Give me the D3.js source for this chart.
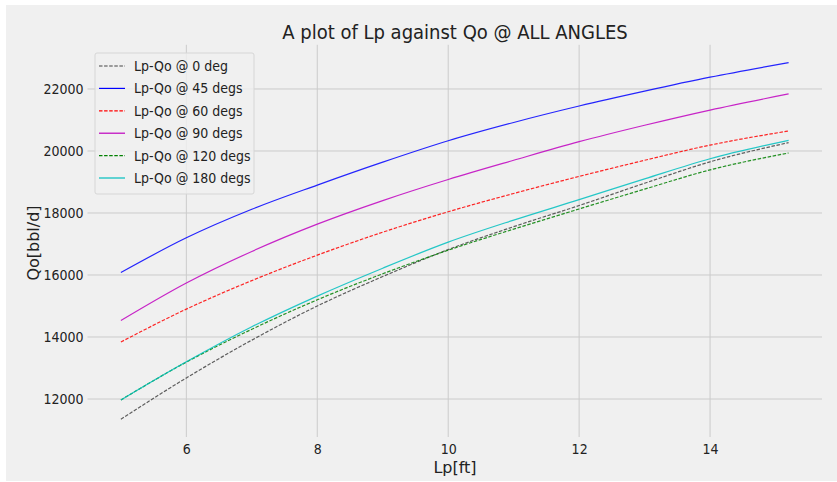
<!DOCTYPE html>
<html><head><meta charset="utf-8">
<script src="https://cdn.jsdelivr.net/npm/d3@7"></script>
<style>
html,body{margin:0;padding:0;background:#fff;}
svg{display:block;}
text{font-family:"DejaVu Sans",sans-serif;fill:#222;}
</style></head><body>
<svg id="chart" width="837" height="482"></svg>
<script>
const lp = [5, 6, 7, 8, 9, 10, 11, 12, 13, 14, 15.2];
const qo0   = [11350, 12680, 13900, 15000, 15950, 16820, 17560, 18240, 18960, 19650, 20270];
const qo45  = [16080, 17200, 18120, 18900, 19640, 20330, 20920, 21450, 21930, 22380, 22850];
const qo60  = [13840, 14900, 15820, 16640, 17380, 18040, 18630, 19180, 19700, 20190, 20645];
const qo90  = [14530, 15740, 16760, 17640, 18400, 19080, 19700, 20300, 20830, 21320, 21840];
const qo120 = [11970, 13190, 14250, 15200, 16040, 16800, 17480, 18130, 18770, 19390, 19935];
const qo180 = [11970, 13200, 14330, 15320, 16220, 17060, 17770, 18430, 19100, 19750, 20345];
const seriesNames = ["Lp-Qo @ 0 deg","Lp-Qo @ 45 degs","Lp-Qo @ 60 degs","Lp-Qo @ 90 degs","Lp-Qo @ 120 degs","Lp-Qo @ 180 degs"];
const xTicks = [6, 8, 10, 12, 14];
const yTicks = [12000, 14000, 16000, 18000, 20000, 22000];

const seriesVals = [qo0, qo45, qo60, qo90, qo120, qo180];
const colors = ["#444444", "#0000ff", "#ff0000", "#bf00bf", "#008000", "#00bfbf"];
const dashed = [true, false, true, false, true, false];
const cond = "'DejaVu Sans Condensed','DejaVu Sans',sans-serif";

const svg = d3.select("#chart");
svg.append("rect").attr("x", 6).attr("y", 5).attr("width", 831).attr("height", 476).attr("fill", "#f0f0f0");

const x = d3.scaleLinear().domain([4.49, 15.71]).range([87.5, 822]);
const y = d3.scaleLinear().domain([10775, 23425]).range([437, 44.8]);

// grid
const g = svg.append("g");
g.selectAll(".vg").data(xTicks).join("line")
  .attr("x1", d => x(d)).attr("x2", d => x(d)).attr("y1", y.range()[1]).attr("y2", y.range()[0])
  .attr("stroke", "#cbcbcb").attr("stroke-width", 1);
g.selectAll(".hg").data(yTicks).join("line")
  .attr("x1", x.range()[0]).attr("x2", x.range()[1]).attr("y1", d => y(d)).attr("y2", d => y(d))
  .attr("stroke", "#cbcbcb").attr("stroke-width", 1);

// axes (labels only)
const xAxis = d3.axisBottom(x).tickValues(xTicks).tickSize(0).tickPadding(0).tickFormat(d3.format("d"));
const xa = svg.append("g").attr("transform", `translate(0,${y.range()[0] + 5})`).call(xAxis);
xa.select(".domain").remove();
xa.selectAll("text").attr("font-size", 14).attr("fill", "#222").attr("dy", "0.85em")
  .style("font-family", cond);

const yAxis = d3.axisLeft(y).tickValues(yTicks).tickSize(0).tickPadding(0).tickFormat(d3.format("d"));
const ya = svg.append("g").attr("transform", `translate(${x.range()[0] - 4},0)`).call(yAxis);
ya.select(".domain").remove();
ya.selectAll("text").attr("font-size", 14).attr("fill", "#222")
  .style("font-family", cond);

// lines
const line = d3.line().x((d, i) => x(lp[i])).y(d => y(d)).curve(d3.curveMonotoneX);
seriesVals.forEach((vals, k) => {
  svg.append("path").datum(vals).attr("d", line)
    .attr("fill", "none").attr("stroke", colors[k]).attr("stroke-width", 1.2)
    .attr("stroke-opacity", 0.85)
    .attr("stroke-dasharray", dashed[k] ? "3.5,1.6" : null);
});

// title and labels
svg.append("text").attr("x", 455).attr("y", 39).attr("text-anchor", "middle")
  .attr("font-size", 20).style("font-family", cond)
  .text("A plot of Lp against Qo @ ALL ANGLES");
svg.append("text").attr("x", 455).attr("y", 473).attr("text-anchor", "middle")
  .attr("font-size", 16).style("font-family", "'DejaVu Sans',sans-serif")
  .text("Lp[ft]");
svg.append("text").attr("transform", "translate(39,243) rotate(-90)").attr("text-anchor", "middle")
  .attr("font-size", 16).style("font-family", "'DejaVu Sans',sans-serif")
  .text("Qo[bbl/d]");

// legend
const lg = svg.append("g");
lg.append("rect").attr("x", 95).attr("y", 53).attr("width", 159).attr("height", 141).attr("rx", 2)
  .attr("fill", "#f0f0f0").attr("fill-opacity", 0.8).attr("stroke", "#d6d6d6");
seriesNames.forEach((name, k) => {
  const yy = 66 + k * 22.4;
  lg.append("line").attr("x1", 99).attr("x2", 125).attr("y1", yy).attr("y2", yy)
    .attr("stroke", colors[k]).attr("stroke-width", 1.2)
    .attr("stroke-dasharray", dashed[k] ? "3.5,1.6" : null);
  lg.append("text").attr("x", 134).attr("y", yy).attr("dy", "0.35em").attr("font-size", 14)
    .style("font-family", cond)
    .text(name);
});
</script>
</body></html>
